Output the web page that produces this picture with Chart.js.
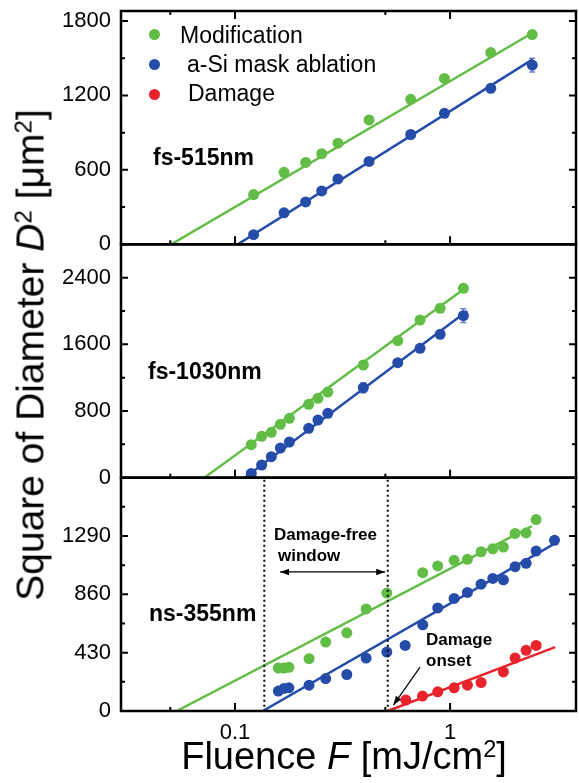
<!DOCTYPE html>
<html>
<head>
<meta charset="utf-8">
<script src="https://cdn.jsdelivr.net/npm/chart.js@4.4.0/dist/chart.umd.min.js"></script>
<style>
    html, body { margin: 0; padding: 0; background: #fff; }
    #wrap { position: relative; width: 579px; height: 783px; font-family: "Liberation Sans", Arial, sans-serif; color: #000; }
    #wrap canvas { position: absolute; left: 0; top: 0; }
    .t { position: absolute; white-space: nowrap; line-height: 1; }
    .b { font-weight: bold; }
    .sup { font-size: 0.62em; position: relative; top: -0.5em; }
    .dot { position: absolute; width: 11px; height: 11px; border-radius: 50%; }
    #ytitle { left: 30px; top: 355px; font-size: 39px; transform: translate(-50%, -50%) rotate(-90deg); }
    #xtitle { left: 344px; top: 756px; font-size: 38px; transform: translate(-50%, -50%); }
</style>
</head>
<body>
<div id="wrap">
    <canvas id="chart" width="579" height="783"></canvas>

    <div class="t" id="ytitle">Square of Diameter <i>D</i><span class="sup">2</span> [μm<span class="sup">2</span>]</div>
    <div class="t" id="xtitle">Fluence <i>F</i> [mJ/cm<span class="sup">2</span>]</div>

    <!-- legend -->
    <span class="dot" style="left:149px; top:29px; background:#62bd46"></span>
    <span class="dot" style="left:149px; top:59px; background:#254ca8"></span>
    <span class="dot" style="left:149px; top:89px; background:#e8232b"></span>
    <div class="t" style="left:180px; top:24px; font-size:23px">Modification</div>
    <div class="t" style="left:187px; top:53px; font-size:23px">a-Si mask ablation</div>
    <div class="t" style="left:188px; top:82px; font-size:23px">Damage</div>

    <!-- panel labels -->
    <div class="t b" style="left:153px; top:146px; font-size:23px">fs-515nm</div>
    <div class="t b" style="left:148px; top:360px; font-size:23px">fs-1030nm</div>
    <div class="t b" style="left:149px; top:602px; font-size:23px">ns-355nm</div>

    <!-- notes in the ns panel -->
    <div class="t b" style="left:274px; top:526px; font-size:17px">Damage-free</div>
    <div class="t b" style="left:278px; top:547px; font-size:17px">window</div>
    <div class="t b" style="left:426px; top:631px; font-size:17px">Damage</div>
    <div class="t b" style="left:426px; top:652px; font-size:17px">onset</div>
</div>

<script>
// Colours
const GREEN = '#62bd46';
const BLUE = '#254ca8';
const RED = '#e8232b';
const ERR = '#7080d0';

// x axis (log)
const xTickValues = [0.05, 0.1, 0.5, 1];
const xTickLabels = ['', '0.1', '', '1'];

// fs-515nm panel
const f515Fluence = [0.122, 0.169, 0.213, 0.253, 0.301, 0.420, 0.656, 0.941, 1.546, 2.41];
const f515Mod = [401, 580, 660, 730, 815, 1002, 1168, 1337, 1545, 1690];
const f515Abl = [78, 254, 342, 430, 527, 668, 885, 1056, 1257, 1444];
const f515AblErr = [0, 0, 0, 0, 0, 0, 0, 0, 0, 55];
const f515ModFitF = [0.0505, 2.48];
const f515ModFit = [0, 1715];
const f515AblFitF = [0.103, 2.42];
const f515AblFit = [0, 1490];

// fs-1030nm panel
const f1030Fluence = [0.119, 0.133, 0.1475, 0.1625, 0.179, 0.220, 0.243, 0.270, 0.395, 0.571, 0.725, 0.899, 1.153];
const f1030Mod = [396, 496, 544, 640, 712, 880, 952, 1028, 1352, 1644, 1892, 2032, 2272];
const f1030Abl = [50, 152, 252, 356, 428, 592, 692, 772, 1080, 1380, 1552, 1720, 1944];
const f1030AblErr = [0, 0, 0, 0, 0, 0, 0, 0, 60, 30, 40, 0, 82];
const f1030ModFitF = [0.072, 1.2];
const f1030ModFit = [0, 2290];
const f1030AblFitF = [0.111, 1.2];
const f1030AblFit = [0, 2000];

// ns-355nm panel
const ns355ModF = [0.159, 0.169, 0.178, 0.221, 0.264, 0.331, 0.407, 0.508, 0.746, 0.876, 1.044, 1.204, 1.394, 1.580, 1.770, 2.006, 2.257, 2.512];
const ns355Mod = [317, 317, 322, 386, 508, 576, 752, 869, 1020, 1069, 1111, 1118, 1174, 1196, 1209, 1309, 1313, 1411];
const ns355AblF = [0.159, 0.169, 0.178, 0.221, 0.264, 0.331, 0.407, 0.508, 0.618, 0.746, 0.876, 1.044, 1.204, 1.394, 1.580, 1.770, 2.006, 2.257, 2.512, 3.058];
const ns355Abl = [147, 166, 171, 190, 239, 269, 390, 434, 483, 635, 760, 830, 874, 935, 977, 967, 1064, 1089, 1179, 1258];
const ns355DamF = [0.622, 0.744, 0.876, 1.044, 1.204, 1.394, 1.770, 2.006, 2.257, 2.512];
const ns355Dam = [81, 110, 141, 171, 190, 210, 288, 390, 447, 483];
const ns355ModFitF = [0.0535, 2.40];
const ns355ModFit = [0, 1362];
const ns355AblFitF = [0.1345, 3.02];
const ns355AblFit = [0, 1228];
const ns355DamFitF = [0.513, 3.08];
const ns355DamFit = [0, 471];

// damage-free window edges and the note arrows (fluence, D^2)
const windowEdges = [0.1368, 0.513];
const windowArrow = [[0.162, 1025], [0.499, 1025]];
const onsetArrow = [[0.725, 324], [0.545, 44]];

function pts(xs, ys) {
    return xs.map((x, i) => ({ x: x, y: ys[i] }));
}

function dots(label, xs, ys, color, axis, errors) {
    return {
        label: label,
        data: pts(xs, ys),
        yAxisID: axis,
        backgroundColor: color,
        borderColor: color,
        pointRadius: 5.5,
        pointHoverRadius: 5.5,
        pointBorderWidth: 0,
        showLine: false,
        errors: errors,
        order: 1
    };
}

function fit(xs, ys, color, axis) {
    return {
        label: 'fit',
        data: pts(xs, ys),
        yAxisID: axis,
        borderColor: color,
        backgroundColor: color,
        borderWidth: 2.5,
        pointRadius: 0,
        showLine: true,
        order: 2
    };
}

function panelAxis(max, step, major, weight) {
    return {
        type: 'linear',
        position: 'left',
        stack: 'panels',
        stackWeight: 1,
        weight: weight,
        min: 0,
        max: max,
        grid: { display: false, drawTicks: false },
        border: { display: false },
        // ticks every `step`, labels only on the major ones
        afterBuildTicks: s => {
            const list = [];
            for (let v = 0; v <= max; v += step) list.push({ value: v });
            s.ticks = list;
        },
        ticks: {
            autoSkip: false,
            padding: 10,
            color: '#000',
            font: { family: '"Liberation Sans", Arial, sans-serif', size: 22 },
            callback: v => (v % major === 0 && v < max) ? String(v) : ''
        },
        afterFit: s => {
            s.width = 121;
            s.paddingTop = 0;
            s.paddingBottom = 0;
        }
    };
}

// inward ticks + panel frames
const framePlugin = {
    id: 'frames',
    afterDatasetsDraw(chart) {
        const { ctx, chartArea } = chart;
        const xs = chart.scales.x;
        const left = chartArea.left, right = chartArea.right;
        ctx.save();
        ctx.strokeStyle = '#000';
        ['y1', 'y2', 'y3'].forEach((id, p) => {
            const ys = chart.scales[id];
            ctx.lineWidth = 2;
            ys.ticks.forEach(t => {
                const y = ys.getPixelForValue(t.value);
                const len = t.label ? 7 : 4;
                ctx.beginPath();
                ctx.moveTo(left, y); ctx.lineTo(left + len, y);
                ctx.moveTo(right, y); ctx.lineTo(right - len, y);
                ctx.stroke();
            });
            xTickValues.forEach((v, i) => {
                const x = xs.getPixelForValue(v);
                const len = xTickLabels[i] ? 8 : 4;
                ctx.beginPath();
                ctx.moveTo(x, ys.bottom); ctx.lineTo(x, ys.bottom - len);
                if (p === 0) { ctx.moveTo(x, ys.top); ctx.lineTo(x, ys.top + len); }
                ctx.stroke();
            });
            ctx.lineWidth = 2.5;
            ctx.strokeRect(left, ys.top, right - left, ys.bottom - ys.top);
        });
        ctx.restore();
    }
};

// error bars behind the points
const errorBarPlugin = {
    id: 'errorBars',
    beforeDatasetsDraw(chart) {
        const ctx = chart.ctx;
        ctx.save();
        ctx.strokeStyle = ERR;
        ctx.lineWidth = 1.5;
        chart.data.datasets.forEach((ds, i) => {
            if (!ds.errors) return;
            const ys = chart.scales[ds.yAxisID];
            chart.getDatasetMeta(i).data.forEach((pt, j) => {
                const e = ds.errors[j];
                if (!e) return;
                const v = ds.data[j].y;
                const y1 = ys.getPixelForValue(v + e);
                const y2 = ys.getPixelForValue(v - e);
                ctx.beginPath();
                ctx.moveTo(pt.x, y1); ctx.lineTo(pt.x, y2);
                ctx.moveTo(pt.x - 3, y1); ctx.lineTo(pt.x + 3, y1);
                ctx.moveTo(pt.x - 3, y2); ctx.lineTo(pt.x + 3, y2);
                ctx.stroke();
            });
        });
        ctx.restore();
    }
};

function arrowHead(ctx, x1, y1, x2, y2) {
    const a = Math.atan2(y2 - y1, x2 - x1);
    const len = 9, half = 3.2;
    ctx.beginPath();
    ctx.moveTo(x2, y2);
    ctx.lineTo(x2 - len * Math.cos(a) + half * Math.sin(a), y2 - len * Math.sin(a) - half * Math.cos(a));
    ctx.lineTo(x2 - len * Math.cos(a) - half * Math.sin(a), y2 - len * Math.sin(a) + half * Math.cos(a));
    ctx.closePath();
    ctx.fill();
}

// dotted window lines and arrows in the ns panel
const notesPlugin = {
    id: 'notes',
    afterDatasetsDraw(chart) {
        const { ctx } = chart;
        const xs = chart.scales.x, ys = chart.scales.y3;
        ctx.save();
        ctx.strokeStyle = '#000';
        ctx.fillStyle = '#000';
        ctx.lineWidth = 2;
        ctx.setLineDash([2, 3]);
        windowEdges.forEach(v => {
            const x = xs.getPixelForValue(v);
            ctx.beginPath();
            ctx.moveTo(x, ys.top + 2); ctx.lineTo(x, ys.bottom);
            ctx.stroke();
        });
        ctx.setLineDash([]);
        ctx.lineWidth = 1.2;
        const px = p => [xs.getPixelForValue(p[0]), ys.getPixelForValue(p[1])];
        const [a1, a2] = windowArrow.map(px);
        ctx.beginPath(); ctx.moveTo(a1[0], a1[1]); ctx.lineTo(a2[0], a2[1]); ctx.stroke();
        arrowHead(ctx, a2[0], a2[1], a1[0], a1[1]);
        arrowHead(ctx, a1[0], a1[1], a2[0], a2[1]);
        const [b1, b2] = onsetArrow.map(px);
        ctx.beginPath(); ctx.moveTo(b1[0], b1[1]); ctx.lineTo(b2[0], b2[1]); ctx.stroke();
        arrowHead(ctx, b1[0], b1[1], b2[0], b2[1]);
        ctx.restore();
    }
};

const datasets = [
    fit(f515ModFitF, f515ModFit, GREEN, 'y1'),
    fit(f515AblFitF, f515AblFit, BLUE, 'y1'),
    dots('Modification', f515Fluence, f515Mod, GREEN, 'y1'),
    dots('a-Si mask ablation', f515Fluence, f515Abl, BLUE, 'y1', f515AblErr),

    fit(f1030ModFitF, f1030ModFit, GREEN, 'y2'),
    fit(f1030AblFitF, f1030AblFit, BLUE, 'y2'),
    dots('Modification', f1030Fluence, f1030Mod, GREEN, 'y2'),
    dots('a-Si mask ablation', f1030Fluence, f1030Abl, BLUE, 'y2', f1030AblErr),

    fit(ns355ModFitF, ns355ModFit, GREEN, 'y3'),
    fit(ns355AblFitF, ns355AblFit, BLUE, 'y3'),
    fit(ns355DamFitF, ns355DamFit, RED, 'y3'),
    dots('Modification', ns355ModF, ns355Mod, GREEN, 'y3'),
    dots('a-Si mask ablation', ns355AblF, ns355Abl, BLUE, 'y3'),
    dots('Damage', ns355DamF, ns355Dam, RED, 'y3')
];

new Chart(document.getElementById('chart'), {
    type: 'scatter',
    data: { datasets: datasets },
    options: {
        responsive: false,
        animation: false,
        devicePixelRatio: 1,
        layout: { autoPadding: false, padding: { left: 0, top: 11, right: 3, bottom: 0 } },
        plugins: {
            legend: { display: false },
            tooltip: { enabled: false }
        },
        scales: {
            x: {
                type: 'logarithmic',
                position: 'bottom',
                min: 0.0295,
                max: 3.85,
                grid: { display: false, drawTicks: false },
                border: { display: false },
                afterBuildTicks: s => { s.ticks = xTickValues.map(v => ({ value: v })); },
                ticks: {
                    autoSkip: false,
                    maxRotation: 0,
                    padding: 9,
                    color: '#000',
                    font: { family: '"Liberation Sans", Arial, sans-serif', size: 22 },
                    callback: v => {
                        const i = xTickValues.indexOf(v);
                        return i >= 0 ? xTickLabels[i] : '';
                    }
                },
                afterFit: s => {
                    s.height = 72;
                    s.paddingLeft = 0;
                    s.paddingRight = 0;
                }
            },
            y1: panelAxis(1880, 300, 600, 3),
            y2: panelAxis(2800, 400, 800, 2),
            y3: panelAxis(1720, 215, 430, 1)
        }
    },
    plugins: [errorBarPlugin, framePlugin, notesPlugin]
});
</script>
</body>
</html>
